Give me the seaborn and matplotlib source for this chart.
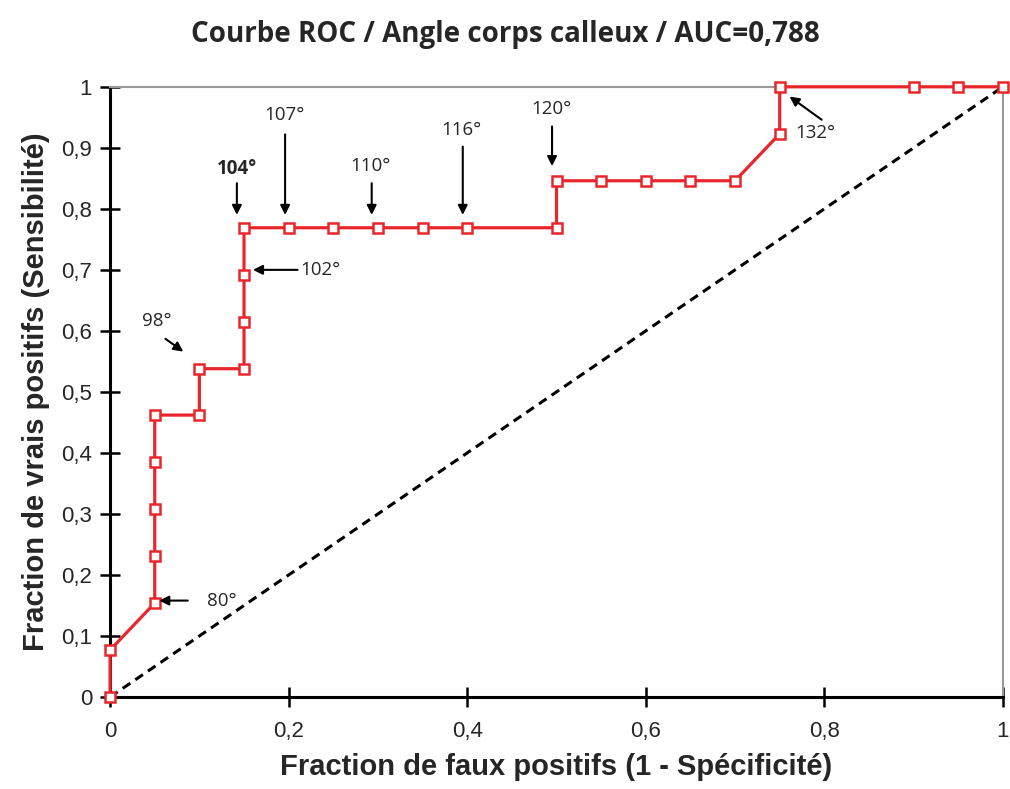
import pandas as pd
import matplotlib.pyplot as plt
import matplotlib.font_manager as fm
import seaborn as sns

# points of the ROC curve (1 - specificity, sensitivity)
fpr = [0, 0, 0.05, 0.05, 0.05, 0.05, 0.05, 0.10, 0.10, 0.15, 0.15, 0.15, 0.15,
       0.20, 0.25, 0.30, 0.35, 0.40, 0.50, 0.50, 0.55, 0.60, 0.65, 0.70,
       0.75, 0.75, 0.90, 0.95, 1.0]
tpr = [0, 0.077, 0.154, 0.231, 0.308, 0.385, 0.462, 0.462, 0.538, 0.538, 0.615, 0.692, 0.769,
       0.769, 0.769, 0.769, 0.769, 0.769, 0.769, 0.846, 0.846, 0.846, 0.846, 0.846,
       0.923, 1.0, 1.0, 1.0, 1.0]

diag_x = [0, 1]
diag_y = [0, 1]

# threshold labels: text, text position, arrow start, arrow tip
ann_labels = ["80°", "98°", "102°", "104°", "107°", "110°", "116°", "120°", "132°"]
ann_text_xy = [(0.125, 0.158), (0.052, 0.617), (0.236, 0.70), (0.142, 0.866), (0.195, 0.953),
               (0.292, 0.87), (0.394, 0.93), (0.494, 0.963), (0.79, 0.925)]
ann_start_xy = [(0.087, 0.158), (0.062, 0.587), (0.21, 0.70), (0.142, 0.842), (0.196, 0.922),
                (0.293, 0.842), (0.395, 0.902), (0.495, 0.935), (0.797, 0.946)]
ann_tip_xy = [(0.055, 0.158), (0.082, 0.566), (0.16, 0.70), (0.142, 0.79), (0.196, 0.79),
              (0.293, 0.79), (0.395, 0.79), (0.495, 0.87), (0.761, 0.984)]
ann_bold = [False, False, False, True, False, False, False, False, False]

xticks = [0, 0.2, 0.4, 0.6, 0.8, 1]
yticks = [0, 0.1, 0.2, 0.3, 0.4, 0.5, 0.6, 0.7, 0.8, 0.9, 1]

df = pd.DataFrame({"fpr": fpr, "tpr": tpr})
diag = pd.DataFrame({"x": diag_x, "y": diag_y})

sns.set_style("white")
names = {f.name for f in fm.fontManager.ttflist}
narrow = "Liberation Sans Narrow" if "Liberation Sans Narrow" in names else "Liberation Sans"
plt.rcParams['font.family'] = ['Open Sans', 'DejaVu Sans']

fig = plt.figure(figsize=(10.1, 7.89), dpi=100)
ax = fig.add_axes([0.109, 0.1166, 0.884, 0.7734])

sns.lineplot(data=diag, x="x", y="y", ax=ax, color="black", linestyle=(0, (3, 2)),
             linewidth=2.2, zorder=2)
sns.lineplot(data=df, x="fpr", y="tpr", ax=ax, sort=False, estimator=None, color="#e8262b",
             linewidth=2.3, marker="s", markersize=6.5, markerfacecolor="white",
             markeredgecolor="#e8262b", markeredgewidth=1.8, zorder=3, clip_on=False)

for lab, txy, st, tip, b in zip(ann_labels, ann_text_xy, ann_start_xy, ann_tip_xy, ann_bold):
    ax.annotate("", xy=tip, xytext=st,
                arrowprops=dict(arrowstyle="-|>", color="black", lw=1.5, mutation_scale=14,
                                shrinkA=0, shrinkB=0))
    ax.text(txy[0], txy[1], lab, fontsize=13.5, ha="center", va="center",
            fontweight="bold" if b else "normal", family=['Open Sans', 'DejaVu Sans'])

ax.set_xlim(0, 1)
ax.set_ylim(0, 1)
ax.set_xticks(xticks)
ax.set_yticks(yticks)
ax.set_xticklabels([("%g" % v).replace(".", ",") for v in xticks], fontsize=16, family=narrow)
ax.set_yticklabels([("%g" % v).replace(".", ",") for v in yticks], fontsize=16, family=narrow)
ax.tick_params(bottom=True, left=True, direction="inout", length=14, width=1.8,
               color="black", pad=10)
ax.tick_params(axis="y", pad=6)

for s in ["left", "bottom"]:
    ax.spines[s].set_color("black")
    ax.spines[s].set_linewidth(2.2)
for s in ["top", "right"]:
    ax.spines[s].set_color("#999999")
    ax.spines[s].set_linewidth(1.5)

ax.set_xlabel("Fraction de faux positifs (1 - Spécificité)", fontsize=21, fontweight="bold",
              family=narrow, labelpad=8)
ax.set_ylabel("Fraction de vrais positifs (Sensibilité)", fontsize=21, fontweight="bold",
              family=narrow, labelpad=8)
fig.suptitle("Courbe ROC / Angle corps calleux / AUC=0,788", fontsize=20, fontweight="bold",
             y=0.975)

fig.savefig("out.png", dpi=100)
